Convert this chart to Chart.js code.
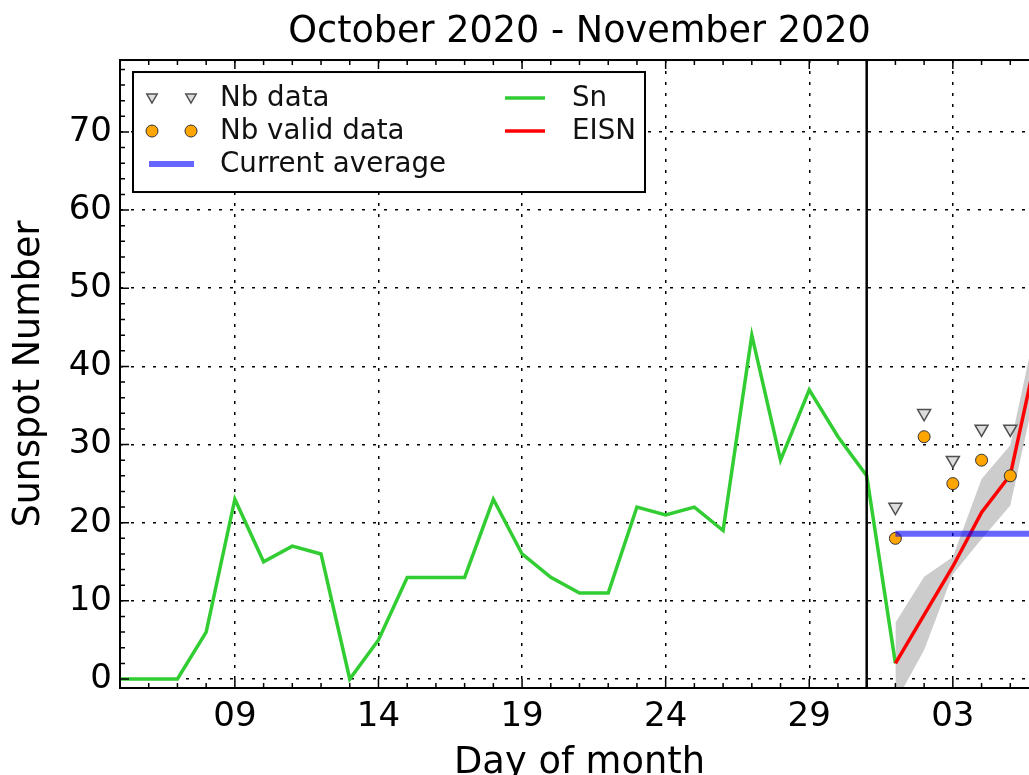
<!DOCTYPE html>
<html>
<head>
<meta charset="utf-8">
<script src="https://cdn.jsdelivr.net/npm/chart.js@4/dist/chart.umd.min.js"></script>
<style>
html,body{margin:0;padding:0;background:#fff;overflow:hidden;}
#wrap{width:1060px;height:800px;}
</style>
</head>
<body>
<div id="wrap"><canvas id="c" width="1060" height="800"></canvas></div>
<script>
// ---------------- data ----------------
const startDate = '2020-10-05';
const xRange = ['2020-10-05', '2020-11-06'];
const yRange = [-1.15, 79.2];

const snDates = ['2020-10-05','2020-10-06','2020-10-07','2020-10-08','2020-10-09','2020-10-10','2020-10-11',
  '2020-10-12','2020-10-13','2020-10-14','2020-10-15','2020-10-16','2020-10-17','2020-10-18','2020-10-19',
  '2020-10-20','2020-10-21','2020-10-22','2020-10-23','2020-10-24','2020-10-25','2020-10-26','2020-10-27',
  '2020-10-28','2020-10-29','2020-10-30','2020-10-31','2020-11-01'];
const snValues = [0,0,0,6,23,15,17,16,0,5,13,13,13,23,16,13,11,11,22,21,22,19,44,28,37,31,26,2];

const eisnDates = ['2020-11-01','2020-11-02','2020-11-03','2020-11-04','2020-11-05','2020-11-06'];
const eisnValues = [2, 8.2, 14.4, 21.3, 26.1, 43];
const eisnLower = [-3, 3.7, 13.4, 17.9, 22.2, 39];
const eisnUpper = [7.2, 13.1, 15.6, 25.6, 29.9, 47];

const nbDates = ['2020-11-01','2020-11-02','2020-11-03','2020-11-04','2020-11-05'];
const nbValues = [22, 34, 28, 32, 32];
const nbValidValues = [18, 31, 25, 28, 26];

const avgDates = ['2020-11-01', '2020-11-06'];
const avgValues = [18.6, 18.6];

const monthBoundary = '2020-10-31';

const xTickDates = ['2020-10-09','2020-10-14','2020-10-19','2020-10-24','2020-10-29','2020-11-03'];
const xTickLabels = ['09','14','19','24','29','03'];
const yTickValues = [0,10,20,30,40,50,60,70];

const legendLabels = ['Nb data', 'Nb valid data', 'Current average', 'Sn', 'EISN'];
const titleText = 'October 2020 - November 2020';
const xTitle = 'Day of month';
const yTitle = 'Sunspot Number';

// ---------------- styles ----------------
const GREEN = '#32cd32', RED = '#ff0000', BLUE = 'rgba(0,0,255,0.6)', BAND = '#cccccc';
const TRI_BG = '#dddddd', TRI_BORDER = '#505050';
const DOT_BG = '#ffa500', DOT_BORDER = '#333333';
const FONT = "'DejaVu Sans', sans-serif";

const dayIndex = d => (Date.parse(d) - Date.parse(startDate)) / 86400000;
const pts = (dates, vals) => dates.map((d, i) => ({x: dayIndex(d), y: vals[i]}));

// ---------------- plugins ----------------
const framePlugin = {
  id: 'frame',
  afterDatasetsDraw(chart) {
    const {ctx, chartArea: a, scales: {x, y}} = chart;
    ctx.save();
    const bx = x.getPixelForValue(dayIndex(monthBoundary));
    ctx.strokeStyle = '#000'; ctx.lineWidth = 2.5;
    ctx.beginPath(); ctx.moveTo(bx, a.top); ctx.lineTo(bx, a.bottom); ctx.stroke();
    ctx.lineWidth = 1.5;
    const majorX = xTickDates.map(dayIndex);
    for (let d = Math.ceil(x.min); d <= x.max; d++) {
      const px = x.getPixelForValue(d);
      const len = majorX.includes(d) ? 9 : 5;
      ctx.beginPath();
      ctx.moveTo(px, a.bottom); ctx.lineTo(px, a.bottom - len);
      ctx.moveTo(px, a.top); ctx.lineTo(px, a.top + len);
      ctx.stroke();
    }
    for (let v = 0; v <= y.max; v += 2) {
      const py = y.getPixelForValue(v);
      const len = (v % 10 === 0) ? 9 : 5;
      ctx.beginPath();
      ctx.moveTo(a.left, py); ctx.lineTo(a.left + len, py);
      ctx.moveTo(a.right, py); ctx.lineTo(a.right - len, py);
      ctx.stroke();
    }
    ctx.lineWidth = 2;
    ctx.strokeRect(a.left, a.top, a.right - a.left, a.bottom - a.top);
    ctx.restore();
  }
};

const legendPlugin = {
  id: 'customLegend',
  afterDraw(chart) {
    const {ctx, chartArea: a} = chart;
    const ds = chart.data.datasets;
    const bx = a.left + 13, by = a.top + 12, bw = 512, bh = 120;
    ctx.save();
    ctx.fillStyle = '#fff';
    ctx.fillRect(bx, by, bw, bh);
    ctx.strokeStyle = '#000'; ctx.lineWidth = 2;
    ctx.strokeRect(bx, by, bw, bh);
    const rows = [by + 26, by + 59, by + 92];
    const mx1 = bx + 19, mx2 = bx + 58, tx1 = bx + 87;
    const lx1 = bx + 372, lx2 = bx + 412, tx2 = bx + 439;
    const drawMarker = (d, px, py, r) => {
      ctx.fillStyle = d.backgroundColor; ctx.strokeStyle = d.borderColor; ctx.lineWidth = d.borderWidth;
      Chart.helpers.drawPoint(ctx, {pointStyle: d.pointStyle, rotation: d.rotation || 0, radius: r, borderWidth: d.borderWidth}, px, py);
    };
    const drawLine = (d, x1, x2, py) => {
      ctx.strokeStyle = d.borderColor; ctx.lineWidth = d.borderWidth;
      ctx.beginPath(); ctx.moveTo(x1, py); ctx.lineTo(x2, py); ctx.stroke();
    };
    const byLabel = l => ds.find(d => d.label === l);
    drawMarker(byLabel(legendLabels[0]), mx1, rows[0] - 1, 6); drawMarker(byLabel(legendLabels[0]), mx2, rows[0] - 1, 6);
    drawMarker(byLabel(legendLabels[1]), mx1, rows[1], 6); drawMarker(byLabel(legendLabels[1]), mx2, rows[1], 6);
    drawLine(byLabel(legendLabels[2]), bx + 16, bx + 61, rows[2]);
    drawLine(byLabel(legendLabels[3]), lx1, lx2, rows[0]);
    drawLine(byLabel(legendLabels[4]), lx1, lx2, rows[1]);
    ctx.fillStyle = '#111';
    ctx.font = '27.7px ' + FONT;
    ctx.textBaseline = 'middle'; ctx.textAlign = 'left';
    ctx.fillText(legendLabels[0], tx1, rows[0] + 1);
    ctx.fillText(legendLabels[1], tx1, rows[1] + 1);
    ctx.fillText(legendLabels[2], tx1, rows[2] + 1);
    ctx.fillText(legendLabels[3], tx2, rows[0] + 1);
    ctx.fillText(legendLabels[4], tx2, rows[1] + 1);
    ctx.restore();
  }
};

// ---------------- chart ----------------
new Chart(document.getElementById('c'), {
  type: 'scatter',
  data: {
    datasets: [
      {label: 'EISN lower', data: pts(eisnDates, eisnLower), showLine: true, borderWidth: 0, borderColor: 'rgba(0,0,0,0)',
       pointRadius: 0, fill: false, order: 10},
      {label: 'EISN upper', data: pts(eisnDates, eisnUpper), showLine: true, borderWidth: 0, borderColor: 'rgba(0,0,0,0)',
       pointRadius: 0, fill: '-1', backgroundColor: BAND, order: 9},
      {label: 'Sn', data: pts(snDates, snValues), showLine: true, borderColor: GREEN, borderWidth: 3.5,
       pointRadius: 0, order: 6},
      {label: 'EISN', data: pts(eisnDates, eisnValues), showLine: true, borderColor: RED, borderWidth: 3.5,
       pointRadius: 0, order: 5},
      {label: 'Nb data', data: pts(nbDates, nbValues), pointStyle: 'triangle', rotation: 180, pointRadius: 7.5,
       backgroundColor: TRI_BG, borderColor: TRI_BORDER, borderWidth: 1.5, order: 4},
      {label: 'Nb valid data', data: pts(nbDates, nbValidValues), pointStyle: 'circle', pointRadius: 6,
       backgroundColor: DOT_BG, borderColor: DOT_BORDER, borderWidth: 1, order: 3},
      {label: 'Current average', data: pts(avgDates, avgValues), showLine: true, borderColor: BLUE, borderWidth: 6,
       pointRadius: 0, order: 2}
    ]
  },
  options: {
    responsive: false,
    animation: false,
    events: [],
    layout: {padding: {left: 0, right: 21, top: 0, bottom: 0}},
    plugins: {
      legend: {display: false},
      tooltip: {enabled: false},
      title: {display: true, text: titleText, fullSize: false, color: '#000',
              font: {family: FONT, size: 36.6, weight: 'normal'}, padding: {top: 10.5, bottom: 5.6}}
    },
    scales: {
      x: {
        type: 'linear', min: dayIndex(xRange[0]), max: dayIndex(xRange[1]),
        afterBuildTicks: s => { s.ticks = xTickDates.map(d => ({value: dayIndex(d)})); },
        afterFit: s => { s.height = 112; },
        ticks: {
          autoSkip: false, maxRotation: 0, color: '#000', padding: 9,
          font: {family: FONT, size: 34},
          callback: (v) => xTickLabels[xTickDates.map(dayIndex).indexOf(v)]
        },
        grid: {color: '#000', lineWidth: 1.5, drawTicks: false},
        border: {display: false, dash: [3, 8]},
        title: {display: true, text: xTitle, color: '#000', font: {family: FONT, size: 36.8},
                padding: {top: 0, bottom: 14}}
      },
      y: {
        min: yRange[0], max: yRange[1],
        afterBuildTicks: s => { s.ticks = yTickValues.map(v => ({value: v})); },
        afterFit: s => { s.width = 120; },
        ticks: {color: '#000', padding: 8, font: {family: FONT, size: 34}},
        grid: {color: '#000', lineWidth: 1.5, drawTicks: false},
        border: {display: false, dash: [3, 8]},
        title: {display: true, text: yTitle, color: '#000', font: {family: FONT, size: 36.6},
                padding: {top: 8, bottom: 0}}
      }
    }
  },
  plugins: [framePlugin, legendPlugin]
});
</script>
</body>
</html>
